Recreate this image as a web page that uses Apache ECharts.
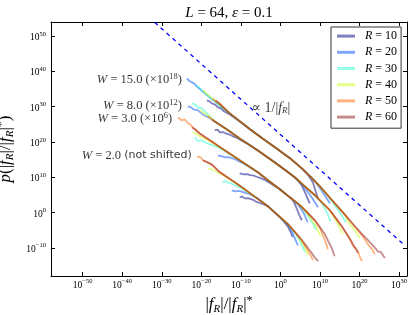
<!DOCTYPE html>
<html><head><meta charset="utf-8">
<script src="https://cdn.jsdelivr.net/npm/echarts@6/dist/echarts.min.js"></script>
<style>html,body{margin:0;padding:0;background:#fff}#c{width:415px;height:315px}</style>
</head><body><div id="c"></div>
<script>
// ---- data (all values are log10 of the plotted quantities) ----
const radii = ['R = 10', 'R = 20', 'R = 30', 'R = 40', 'R = 50', 'R = 60'];
const radiusColors = ['rgba(0,0,128,0.5)', 'rgba(0,77,255,0.5)', 'rgba(41,255,206,0.5)',
                      'rgba(206,255,41,0.55)', 'rgba(255,104,0,0.5)', 'rgba(128,0,0,0.45)'];
const xTickExp = [-50, -40, -30, -20, -10, 0, 10, 20, 30];
const yTickExp = [-10, 0, 10, 20, 30, 40, 50];

// W = 2.0 (not shifted)
const w2_r10 = [[-10.3,4.3],[-9.6,4.5],[-9.0,4.0],[-8.2,4.1],[-7.7,3.7],[-6.9,3.6],[-6.2,3.1],[-5.2,2.7],[-4.2,2.3],[-3.2,1.8],[0.35,-1.8],[1.9,-4.0],[2.6,-5.6],[3.1,-7.0]];
const w2_r20 = [[-12.3,6.3],[-11.8,6.6],[-11.3,6.0],[-10.5,6.1],[-9.8,5.9],[-8.7,5.5],[-7.9,5.3],[-7.2,4.9],[-5.7,4.0],[-3.2,1.8],[-0.6,-0.9],[1.9,-3.6],[2.8,-5.1],[3.4,-6.7],[4.4,-9.3]];
const w2_r30 = [[-14.6,8.6],[-13.8,8.9],[-13.2,8.4],[-12.5,8.3],[-11.5,7.7],[-9.8,6.9],[-6.5,4.5],[-3.2,1.8],[-0.6,-0.8],[1.9,-3.4],[3.9,-6.1],[5.2,-8.7],[6.2,-11.2]];
const w2_r40 = [[-18.3,12.5],[-17.8,12.6],[-17.3,12.2],[-16.3,11.7],[-15.3,11.1],[-12.5,9.2],[-9.8,7.2],[-6.5,4.5],[-3.2,1.8],[-0.6,-0.8],[1.9,-3.3],[3.8,-5.8],[4.9,-7.4],[6.2,-9.8],[6.9,-12.1]];
const w2_r50 = [[-21.1,15.9],[-20.6,15.4],[-20.1,15.6],[-19.6,14.8],[-18.6,14.3],[-17.3,13.5],[-15.3,11.4],[-12.5,9.3],[-9.8,7.2],[-6.5,4.5],[-3.2,1.8],[-0.6,-0.8],[1.9,-3.3],[3.8,-5.7],[5.4,-7.9],[6.9,-10.7],[7.6,-12.0],[8.2,-13.5]];
const w2_r60 = [[-19.6,14.8],[-18.4,14.2],[-17.3,13.6],[-15.3,11.4],[-12.5,9.3],[-9.8,7.2],[-6.5,4.5],[-3.2,1.8],[-0.6,-0.8],[1.9,-3.3],[3.8,-5.7],[5.4,-7.8],[6.5,-9.4],[7.4,-10.7],[8.0,-11.6],[8.5,-12.5],[9.0,-13.0],[9.5,-13.8]];

// W = 3.0 (x10^6)
const w3_r10 = [[-10.3,11.1],[-9.8,11.3],[-9.2,10.8],[-8.4,10.9],[-7.7,10.6],[-6.9,10.5],[-6.2,10.2],[-5.4,9.9],[-4.7,9.6],[-3.6,9.0],[-2.7,8.4],[-0.15,6.6],[2.4,4.3],[3.3,3.2],[4.1,1.2],[4.8,-0.8],[5.4,-2.2]];
const w3_r20 = [[-15.8,16.2],[-14.8,15.9],[-13.8,15.6],[-12.8,15.6],[-11.5,15.1],[-10.4,14.5],[-9.0,13.7],[-7.5,12.6],[-5.7,11.4],[-3.0,9.0],[-0.15,6.6],[2.4,4.3],[4.4,2.3],[5.2,1.0],[5.9,-0.2],[6.9,-2.8]];
const w3_r30 = [[-21.6,21.3],[-20.9,20.2],[-20.1,20.5],[-19.1,19.9],[-17.8,19.3],[-15.8,18.5],[-14.0,17.4],[-9.9,14.5],[-5.7,11.4],[-3.0,9.0],[-0.15,6.6],[2.4,4.3],[4.9,2.1],[6.2,0.4],[7.7,-2.2],[8.4,-3.5],[9.0,-5.0]];
const w3_r40 = [[-22.1,22.7],[-21.4,22.4],[-20.4,21.6],[-19.1,21.0],[-17.3,19.9],[-14.0,17.6],[-9.9,14.5],[-5.7,11.4],[-3.0,9.0],[-0.15,6.6],[2.4,4.3],[4.9,2.1],[6.2,0.6],[7.4,-1.3],[9.0,-3.9],[10.2,-6.7]];
const w3_r50 = [[-25.9,26.9],[-25.4,26.4],[-24.9,26.1],[-24.2,26.4],[-23.4,25.3],[-22.8,25.0],[-22.4,24.4],[-20.4,22.4],[-17.2,20.0],[-14.0,17.6],[-9.9,14.5],[-5.7,11.4],[-3.0,9.0],[-0.15,6.6],[2.4,4.3],[4.9,2.1],[6.8,0.0],[8.7,-2.2],[10.0,-4.4],[10.7,-6.3],[11.4,-8.3],[12.0,-10.4]];
const w3_r60 = [[-22.4,24.1],[-21.6,23.6],[-20.4,22.4],[-17.2,20.0],[-14.0,17.6],[-9.9,14.5],[-5.7,11.4],[-3.0,9.0],[-0.15,6.6],[2.4,4.3],[4.9,2.1],[6.8,0.0],[8.7,-2.2],[10.0,-4.2],[11.2,-6.1],[12.0,-7.9],[12.5,-9.0],[13.0,-10.2],[13.3,-10.7],[13.7,-12.4]];

// W = 8.0 (x10^12)
const w8_r10 = [[-16.6,23.3],[-15.9,23.5],[-15.3,22.7],[-14.5,22.8],[-13.8,22.4],[-12.9,22.1],[-12.0,21.6],[-11.1,21.2],[-10.3,20.7],[-8.5,19.6],[-5.7,17.6],[-1.4,14.2],[1.1,12.1],[3.6,10.0],[4.6,8.9],[5.4,7.7],[6.4,5.2],[7.4,2.6]];
const w8_r20 = [[-23.4,30.1],[-22.6,29.8],[-21.9,29.2],[-20.9,29.0],[-19.6,27.8],[-17.8,26.7],[-16.6,25.8],[-13.5,23.5],[-10.3,21.0],[-5.7,17.6],[-1.4,14.2],[1.1,12.1],[3.6,10.0],[6.2,6.9],[7.9,4.3],[9.5,1.5]];
const w8_r30 = [[-22.4,30.9],[-21.6,30.65],[-20.9,29.8],[-19.9,29.5],[-18.6,28.1],[-16.6,25.8],[-13.5,23.5],[-10.3,21.0],[-5.7,17.6],[-1.4,14.2],[1.1,12.1],[3.6,10.0],[6.2,7.4],[8.7,4.9],[10.5,2.6],[11.7,0.1],[12.7,-2.5]];
const w8_r40 = [[-20.4,29.0],[-19.4,28.1],[-18.3,27.5],[-16.6,25.8],[-13.5,23.5],[-10.3,21.0],[-5.7,17.6],[-1.4,14.2],[1.1,12.1],[3.6,10.0],[6.2,7.4],[8.7,4.9],[10.6,2.7],[12.5,0.65],[14.0,-2.2],[15.0,-4.4],[15.8,-6.1]];
const w8_r50 = [[-18.3,27.3],[-17.6,26.7],[-16.6,25.8],[-13.5,23.5],[-10.3,21.0],[-5.7,17.6],[-1.4,14.2],[1.1,12.1],[3.6,10.0],[6.2,7.4],[8.7,4.9],[10.6,2.7],[12.5,0.65],[14.0,-1.6],[15.5,-3.9],[16.5,-5.7],[17.5,-7.5],[18.3,-9.3],[19.0,-10.3],[19.6,-11.0],[20.1,-12.6],[20.6,-13.8]];
const w8_r60 = [[-17.3,26.3],[-16.9,25.8],[-16.6,25.8],[-13.5,23.5],[-10.3,21.0],[-5.7,17.6],[-1.4,14.2],[1.1,12.1],[3.6,10.0],[6.2,7.4],[8.7,4.9],[10.6,2.7],[12.5,0.65],[14.0,-1.6],[15.5,-3.9],[16.5,-5.6],[17.5,-7.3],[18.2,-8.7],[18.6,-9.6],[19.1,-10.2],[19.6,-11.5]];

// W = 15.0 (x10^18)
const w15_r10 = [[-18.6,31.8],[-17.9,31.5],[-17.3,30.9],[-16.5,30.6],[-15.8,29.8],[-15.0,29.5],[-14.3,28.7],[-12.8,27.8],[-10.3,25.8],[-7.7,23.6],[-4.5,21.0],[-1.4,18.5],[2.4,15.4],[5.4,12.5],[6.9,10.8],[8.2,8.6],[9.45,4.05]];
const w15_r20 = [[-23.65,38.0],[-22.9,37.2],[-21.9,36.6],[-20.9,35.5],[-19.4,34.05],[-17.8,32.6],[-12.8,28.1],[-7.7,23.6],[-4.5,21.0],[-1.4,18.5],[2.4,15.4],[5.4,12.5],[7.7,10.0],[8.7,8.9],[10.7,5.75],[12.5,2.6]];
const w15_r30 = [[-21.4,36.0],[-20.6,35.5],[-19.6,34.3],[-17.8,32.6],[-12.8,28.1],[-7.7,23.6],[-4.5,21.0],[-1.4,18.5],[2.4,15.4],[5.4,12.5],[7.7,10.0],[10.0,7.4],[13.0,3.2],[15.0,0.1],[16.5,-2.75]];
const w15_r40 = [[-19.6,34.6],[-18.85,33.8],[-17.8,32.9],[-12.8,28.1],[-7.7,23.6],[-4.5,21.0],[-1.4,18.5],[2.4,15.4],[5.4,12.5],[7.7,10.0],[10.0,7.4],[13.75,2.6],[16.3,-0.6],[17.0,-2.5],[18.8,-5.0],[20.1,-7.3]];
const w15_r50 = [[-17.1,32.3],[-16.3,31.5],[-15.3,30.9],[-12.8,28.1],[-7.7,23.6],[-4.5,21.0],[-1.4,18.5],[2.4,15.4],[5.4,12.5],[7.7,10.0],[10.0,7.4],[13.75,2.6],[16.3,-0.6],[18.8,-3.9],[20.6,-6.4],[22.3,-9.25],[23.1,-10.3],[23.85,-11.8]];
const w15_r60 = [[-16.3,31.8],[-15.3,30.65],[-12.8,28.1],[-7.7,23.6],[-4.5,21.0],[-1.4,18.5],[2.4,15.4],[5.4,12.5],[7.7,10.0],[10.0,7.4],[13.75,2.6],[16.3,-0.6],[18.8,-3.9],[20.7,-6.2],[22.6,-8.4],[23.6,-9.6],[24.6,-11.0],[25.4,-11.2],[26.4,-12.9]];

// reference line  p ∝ 1/|f_R|
const refLine = [[-31.8, 53.9], [30.9, -8.8]];

// annotations (anchor in data coords, log10)
const annoText = ['{i|W}{n| = 15.0 (×10}{sup|18}{n|)}', '{i|W}{n| = 8.0 (×10}{sup|12}{n|)}',
                  '{i|W}{n| = 3.0 (×10}{sup|6}{n|)}', '{i|W}{n| = 2.0 }{sans|(not shifted)}',
                  '{b|∝ 1/|}{bi|f}{sub|R}{b||}'];
const annoX = [-24.9, -24.9, -27.4, -22.4, -7.3];
const annoY = [37.7, 30.2, 26.6, 16.2, 29.6];
const annoSide = ['left', 'left', 'left', 'left', 'right'];

// ---- build options ----
const SERIF = "'Liberation Serif', 'DejaVu Serif', serif";
const mathRich = {
  i: {fontFamily: SERIF, fontStyle: 'italic', fontSize: 12.5, color: '#000'},
  n: {fontFamily: SERIF, fontSize: 12.5, color: '#000'},
  b: {fontFamily: SERIF, fontSize: 14, color: '#000'},
  bi: {fontFamily: SERIF, fontStyle: 'italic', fontSize: 14, color: '#000'},
  sub: {fontFamily: SERIF, fontStyle: 'italic', fontSize: 9, color: '#000', padding: [6, 0, 0, 0]},
  sup: {fontFamily: SERIF, fontSize: 8.5, color: '#000', padding: [0, 0, 6, 0]},
  sans: {fontFamily: "'DejaVu Sans', sans-serif", fontSize: 11, color: '#000'}
};
const nameRich = {
  i: {fontFamily: SERIF, fontStyle: 'italic', fontSize: 17, color: '#000'},
  n: {fontFamily: SERIF, fontSize: 17, color: '#000'},
  sub: {fontFamily: SERIF, fontStyle: 'italic', fontSize: 11, color: '#000', padding: [8, 0, 0, 0]},
  sup: {fontFamily: SERIF, fontSize: 12, color: '#000', padding: [0, 0, 8, 0]}
};
const tickRich = {
  b: {fontFamily: SERIF, fontSize: 9.5, color: '#000', padding: [3, 0, 0, 0]},
  s: {fontFamily: SERIF, fontSize: 6.5, color: '#000', padding: [0, 0, 4, 0]}
};
const expLabel = v => '{b|10}{s|' + (v < 0 ? '\u2212' + (-v) : String(v)) + '}';

const groups = [
  [w2_r10, w2_r20, w2_r30, w2_r40, w2_r50, w2_r60],
  [w3_r10, w3_r20, w3_r30, w3_r40, w3_r50, w3_r60],
  [w8_r10, w8_r20, w8_r30, w8_r40, w8_r50, w8_r60],
  [w15_r10, w15_r20, w15_r30, w15_r40, w15_r50, w15_r60]
];

const series = [];
groups.forEach(g => g.forEach((d, k) => {
  series.push({
    type: 'line', name: radii[k], data: d, showSymbol: false, symbol: 'none',
    lineStyle: {width: 1.8, color: radiusColors[k]}, itemStyle: {color: radiusColors[k]},
    z: 2 + k, silent: true
  });
}));
series.push({
  type: 'line', name: 'ref', data: refLine, showSymbol: false, symbol: 'none',
  lineStyle: {width: 1.3, color: '#0000ff', type: [4, 4]}, z: 10, silent: true
});
series.push({
  type: 'scatter', name: 'anno', symbolSize: 0, silent: true, z: 11,
  data: annoText.map((t, i) => ({
    value: [annoX[i], annoY[i]],
    label: {show: true, position: annoSide[i], distance: 0, formatter: t, rich: mathRich}
  }))
});

const baseAxis = {
  type: 'value', splitLine: {show: false},
  axisLine: {show: true, onZero: false, lineStyle: {color: '#000', width: 1}},
};
const chart = echarts.init(document.getElementById('c'), null, {renderer: 'canvas'});
chart.setOption({
  animation: false,
  backgroundColor: '#fff',
  grid: {left: 51, top: 22, width: 356, height: 254, show: false, containLabel: false, outerBoundsMode: 'none'},
  xAxis: [
    Object.assign({}, baseAxis, {
      position: 'bottom', min: -58, max: 32,
      axisTick: {inside: true, length: 4, customValues: xTickExp, lineStyle: {color: '#000'}},
      axisLabel: {customValues: xTickExp, margin: 1, formatter: expLabel, rich: tickRich},
      name: '{n||}{i|f}{sub|R}{n||/|}{i|f}{sub|R}{n||}{sup|*}', nameLocation: 'middle', nameGap: 15,
      nameTextStyle: {rich: nameRich}
    }),
    Object.assign({}, baseAxis, {
      position: 'top', min: -58, max: 32,
      axisTick: {inside: true, length: 4, customValues: xTickExp, lineStyle: {color: '#000'}},
      axisLabel: {show: false}
    })
  ],
  yAxis: [
    Object.assign({}, baseAxis, {
      position: 'left', min: -18, max: 54,
      axisTick: {inside: true, length: 4, customValues: yTickExp, lineStyle: {color: '#000'}},
      axisLabel: {customValues: yTickExp, margin: 5, formatter: expLabel, rich: tickRich},
      name: '{i|p}{n|(|}{i|f}{sub|R}{n||/|}{i|f}{sub|R}{n||}{sup|*}{n|)}', nameLocation: 'middle', nameGap: 30, nameRotate: 90,
      nameTextStyle: {rich: nameRich}
    }),
    Object.assign({}, baseAxis, {
      position: 'right', min: -18, max: 54,
      axisTick: {inside: true, length: 4, customValues: yTickExp, lineStyle: {color: '#000'}},
      axisLabel: {show: false}
    })
  ],
  legend: {
    data: radii, orient: 'vertical', left: 331, top: 27,
    padding: [1, 4, 3, 6], itemGap: 0, itemWidth: 18, itemHeight: 3, icon: 'rect',
    backgroundColor: '#fff', borderColor: '#333', borderWidth: 1, borderRadius: 0,
    formatter: n => '{i|R}{n|' + n.slice(1) + '}',
    textStyle: {lineHeight: 16.2, padding: [0, 0, 0, 5], rich: {
      i: {fontFamily: SERIF, fontStyle: 'italic', fontSize: 12, color: '#000', lineHeight: 16.2},
      n: {fontFamily: SERIF, fontSize: 12, color: '#000', lineHeight: 16.2}
    }}
  },
  graphic: [{
    type: 'text', x: 229, y: 13, z: 100,
    style: {text: '{i|L}{n| = 64, }{i|ε}{n| = 0.1}', align: 'center', verticalAlign: 'middle',
      rich: {i: {fontFamily: SERIF, fontStyle: 'italic', fontSize: 15, fill: '#000'},
             n: {fontFamily: SERIF, fontSize: 15, fill: '#000'}}}
  }],
  series: series
});
</script></body></html>
